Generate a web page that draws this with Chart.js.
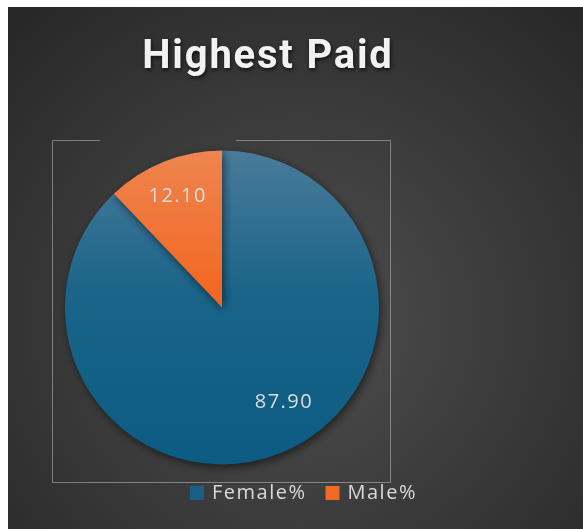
<!DOCTYPE html>
<html>
<head>
<meta charset="utf-8">
<script src="https://cdn.jsdelivr.net/npm/chart.js@4"></script>
<style>
html,body{margin:0;padding:0;background:#fff;}
#wrap{width:583px;height:529px;position:relative;}
canvas{display:block;}
</style>
</head>
<body>
<div id="wrap"><canvas id="c" width="583" height="529"></canvas></div>
<script>
const chartTitle = "Highest Paid";
const categories = ["Female%", "Male%"];
const values = [87.90, 12.10];
const valueLabels = ["87.90", "12.10"];

const topColors = ["#4a7b9a", "#ee8550"];
const bottomColors = ["#0c5b83", "#f26822"];
const legendColors = ["#1a5f86", "#ef6a25"];

function sliceGradient(ctx) {
  const chart = ctx.chart;
  const area = chart.chartArea;
  if (!area) return topColors[ctx.dataIndex];
  const g = chart.ctx.createLinearGradient(0, area.top, 0, area.bottom);
  const i = ctx.dataIndex;
  g.addColorStop(0, topColors[i]);
  g.addColorStop(0.45, i === 0 ? "#1a6589" : bottomColors[i]);
  g.addColorStop(1, bottomColors[i]);
  return g;
}

const decor = {
  id: "decor",
  beforeDraw(chart) {
    const c = chart.ctx;
    c.save();
    c.fillStyle = "#ffffff";
    c.fillRect(0, 0, chart.width, chart.height);
    const rg = c.createRadialGradient(300, 320, 10, 300, 320, 430);
    rg.addColorStop(0, "#4e4e4e");
    rg.addColorStop(1, "#262626");
    c.fillStyle = rg;
    c.fillRect(8, 7, chart.width - 8, chart.height - 7);
    // plot area frame
    c.strokeStyle = "rgba(190,190,190,0.55)";
    c.lineWidth = 1;
    c.beginPath();
    c.moveTo(100, 140.5); c.lineTo(52.5, 140.5); c.lineTo(52.5, 482.5);
    c.lineTo(390.5, 482.5); c.lineTo(390.5, 140.5); c.lineTo(236, 140.5);
    c.stroke();
    c.restore();
  },
  beforeDatasetsDraw(chart) {
    const c = chart.ctx;
    c.save();
    c.shadowColor = "rgba(0,0,0,0.55)";
    c.shadowBlur = 8;
    c.shadowOffsetX = 2;
    c.shadowOffsetY = 3;
  },
  afterDatasetsDraw(chart) {
    const c = chart.ctx;
    c.restore();
    // value labels
    const meta = chart.getDatasetMeta(0);
    const nudges = [-0.2, 0.0];
    const fracs = [0.72, 0.76];
    c.save();
    c.font = "20px 'Open Sans'";
    c.letterSpacing = "1.5px";
    c.fillStyle = "#dedede";
    c.textAlign = "center";
    c.textBaseline = "middle";
    meta.data.forEach((arc, i) => {
      const p = arc.getProps(["x", "y", "startAngle", "endAngle", "outerRadius"], true);
      const mid = (p.startAngle + p.endAngle) / 2 + nudges[i];
      const r = p.outerRadius * fracs[i];
      c.fillText(valueLabels[i], p.x + Math.cos(mid) * r, p.y + Math.sin(mid) * r);
    });
    c.restore();
  },
  afterDraw(chart) {
    const c = chart.ctx;
    // title
    c.save();
    c.font = "bold 40px Roboto";
    c.letterSpacing = "1.8px";
    c.textAlign = "center";
    c.textBaseline = "alphabetic";
    c.shadowColor = "rgba(0,0,0,0.7)";
    c.shadowBlur = 4;
    c.shadowOffsetX = 1;
    c.shadowOffsetY = 2;
    c.fillStyle = "#f2f2f2";
    c.fillText(chartTitle, 268, 68);
    c.restore();
    // legend
    c.save();
    c.font = "20px 'Open Sans'";
    c.letterSpacing = "1.5px";
    c.textBaseline = "middle";
    c.textAlign = "left";
    let x = 190;
    const y = 493;
    categories.forEach((lab, i) => {
      c.fillStyle = legendColors[i];
      c.fillRect(x, y - 7, 14, 14);
      c.fillStyle = "#d9d9d9";
      c.fillText(lab, x + 22, y);
      x += 22 + c.measureText(lab).width + 19;
    });
    c.restore();
  }
};

new Chart(document.getElementById("c"), {
  type: "pie",
  data: {
    labels: categories,
    datasets: [{
      data: values,
      backgroundColor: sliceGradient,
      borderWidth: 0,
      hoverOffset: 0
    }]
  },
  options: {
    responsive: false,
    animation: false,
    events: [],
    layout: { padding: { left: 65, right: 204, top: 150, bottom: 64 } },
    plugins: {
      legend: { display: false },
      title: { display: false },
      tooltip: { enabled: false }
    }
  },
  plugins: [decor]
});
</script>
</body>
</html>
